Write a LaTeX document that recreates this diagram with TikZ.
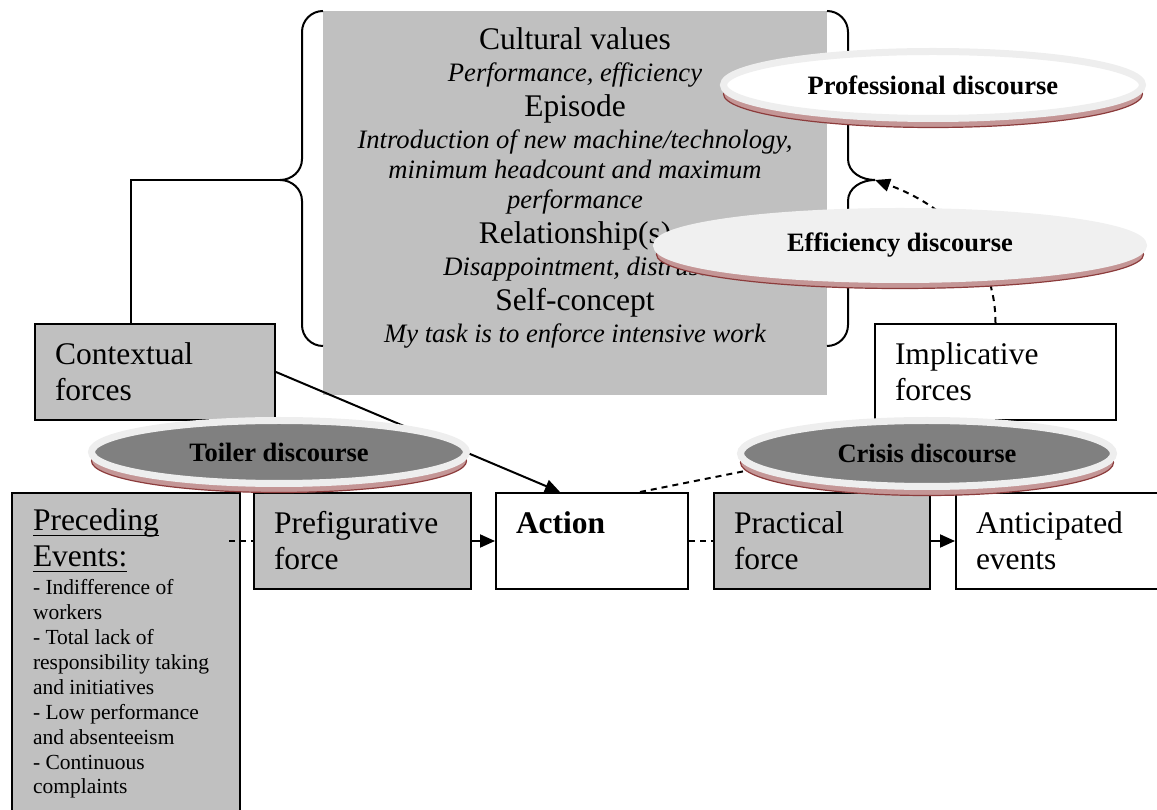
\documentclass[tikz,border=0pt]{standalone}
\usepackage{fontspec}
\setmainfont{Liberation Serif}
\usepackage{tikz}
\usetikzlibrary{arrows.meta,positioning,shapes.geometric,shadows}

\definecolor{boxgray}{RGB}{192,192,192}
\definecolor{darkdisc}{RGB}{128,128,128}
\definecolor{ringgray}{RGB}{238,238,238}
\definecolor{lightdisc}{RGB}{240,240,240}
\definecolor{rimred}{RGB}{196,150,150}
\definecolor{rimdark}{RGB}{140,60,60}

\newsavebox{\ulbox}
\newcommand{\undl}[1]{\leavevmode\sbox\ulbox{#1}\rlap{\rule[-5.6pt]{\wd\ulbox}{1.8pt}}\usebox\ulbox}
\newcommand{\bigtxt}{\fontsize{31.5}{36}\selectfont}
\newcommand{\valfont}{\fontsize{31.5}{30.4}\selectfont\lineskiplimit=-50pt\relax}
\newcommand{\detail}[1]{{\fontsize{26.6}{30.4}\selectfont\itshape #1}}

\begin{document}
\begin{tikzpicture}[x=1pt,y=1pt,
    force/.style={draw,line width=2pt,align=left,inner xsep=20pt,inner ysep=0pt,
        minimum height=96pt,font=\bigtxt},
    gray force/.style={force,fill=boxgray},
    disc/.style={ellipse,line width=7pt,inner sep=0pt,
        font=\fontsize{26.5}{30}\selectfont\bfseries,
        drop shadow={shadow xshift=0pt,shadow yshift=-9pt,fill=rimred,
            draw=rimdark,line width=1.2pt,opacity=1}},
    dark disc/.style={disc,fill=darkdisc,draw=ringgray},
    light disc/.style={disc,fill=lightdisc,draw=lightdisc},
    white disc/.style={disc,fill=white,draw=ringgray},
    link/.style={line width=2pt},
    dashlink/.style={link,dash pattern=on 6pt off 5pt},
    tip/.style={-{Triangle[length=15pt,width=13pt]}},
    brace/.style={line width=2pt}
]
    \useasboundingbox (0,0) rectangle (1157,809);

    % Central block with the frame of meaning
    \fill[boxgray] (323,798) rectangle (827,414);
    \node[align=center,font=\valfont,inner sep=0pt] (values) at (575,621) {Cultural values\\[1.2pt]
        \detail{Performance, efficiency}\\[4.6pt]
        Episode\\[1.2pt]
        \detail{Introduction of new machine/technology,}\\
        \detail{minimum headcount and maximum}\\
        \detail{performance}\\[4.6pt]
        Relationship(s)\\[1.2pt]
        \detail{Disappointment, distrust}\\[4.6pt]
        Self-concept\\[1.2pt]
        \detail{My task is to enforce intensive work}};

    % Braces
    \coordinate (ltip) at (280,629);
    \coordinate (rtip) at (875,629);
    \draw[brace] (323,798) to[out=180,in=90] (302,777) -- (302,650)
        to[out=-90,in=0] (ltip) to[out=0,in=90] (302,608) -- (302,484)
        to[out=-90,in=180] (323,463);
    \draw[brace] (827,798) to[out=0,in=90] (848,777) -- (848,650)
        to[out=-90,in=180] (rtip) to[out=180,in=90] (848,608) -- (848,484)
        to[out=-90,in=0] (827,463);

    % Forces
    \node[gray force,text width=200pt] (ctx) at (155,437) {Contextual\\forces};
    \node[force,text width=201pt] (imp) at (995.5,437) {Implicative\\forces};

    % Bottom row
    \node[gray force,text width=186pt,align=flush left,inner xsep=21pt,inner ysep=16pt,
        minimum height=0pt,anchor=north west] (pre) at (11,317)
        {\undl{Preceding}\\\undl{Events:}\par\vspace{3pt}
        {\fontsize{21.5}{24.9}\selectfont - Indifference of\\workers\\- Total lack of\\
        responsibility taking\\and initiatives\\- Low performance\\and absenteeism\\
        - Continuous\\complaints\par}\vspace{40pt}};
    \node[gray force,text width=177pt,anchor=north west] (pref) at ([xshift=12pt]pre.north east)
        {Prefigurative\\force};
    \node[force,text width=152pt,right=23pt of pref] (act) {\textbf{Action}\\\phantom{f}};
    \node[gray force,text width=176pt,right=24pt of act] (prac) {Practical\\force};
    \node[force,text width=220pt,right=24pt of prac] (ant) {Anticipated\\events};

    % Connectors
    \draw[link] ([xshift=-24pt]ctx.north) |- (ltip);
    \draw[link,tip] (ctx.east) -- ([xshift=-32pt]act.north);
    \draw[dashlink,shorten <=-12pt] (pref.west -| pre.east) -- (pref.west);
    \draw[link,tip] (pref) -- (act);
    \draw[dashlink] (act) -- (prac);
    \draw[link,tip] (prac) -- (ant);
    \draw[dashlink] ([xshift=48pt]act.north) -- (imp.south);
    \draw[dashlink,tip] (imp.north) to[out=90,in=-20] (rtip);

    % Discourses
    \node[white disc,minimum width=419pt,minimum height=67pt] (prof) at (933,724) {Professional discourse};
    \node[light disc,minimum width=487pt,minimum height=68pt] (eff) at (900,563.5) {Efficiency discourse};
    \node[dark disc,minimum width=375pt,minimum height=63pt] (toil) at (279,357) {Toiler discourse};
    \node[dark disc,minimum width=373pt,minimum height=66pt] (cris) at (927,355.5) {Crisis discourse};
\end{tikzpicture}
\end{document}
